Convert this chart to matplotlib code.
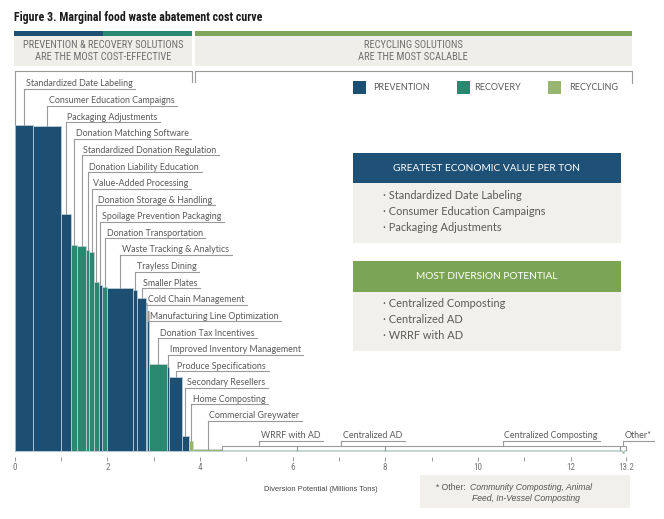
import matplotlib
matplotlib.use('Agg')
import matplotlib.pyplot as plt
from matplotlib import font_manager as fm
from matplotlib.patches import Rectangle
import numpy as np

# ---------------- data ----------------
solutions = [
    "Standardized Date Labeling", "Consumer Education Campaigns", "Packaging Adjustments",
    "Donation Matching Software", "Standardized Donation Regulation", "Donation Liability Education",
    "Value-Added Processing", "Donation Storage & Handling", "Spoilage Prevention Packaging",
    "Donation Transportation", "Waste Tracking & Analytics", "Trayless Dining", "Smaller Plates",
    "Cold Chain Management", "Manufacturing Line Optimization", "Donation Tax Incentives",
    "Improved Inventory Management", "Produce Specifications", "Secondary Resellers",
    "Home Composting", "Commercial Greywater", "WRRF with AD", "Centralized AD",
    "Centralized Composting", "Community Composting", "Animal Feed", "In-Vessel Composting",
]
categories = [
    "prevention", "prevention", "prevention",
    "recovery", "recovery", "recovery", "recovery", "recovery", "prevention",
    "recovery", "prevention", "prevention", "prevention",
    "prevention", "prevention", "recovery",
    "prevention", "prevention", "prevention",
    "recycling", "recycling", "recycling", "recycling",
    "recycling", "recycling", "recycling", "recycling",
]
# diversion potential (million tons)
diversion = [0.40, 0.59, 0.22, 0.14, 0.19, 0.07, 0.10, 0.10, 0.08, 0.11, 0.56, 0.09, 0.18,
             0.03, 0.04, 0.38, 0.06, 0.27, 0.15, 0.10, 0.61, 1.62, 1.91, 5.07, 0.04, 0.05, 0.04]
# relative economic value per ton (arbitrary index)
value = [326, 325, 237, 206, 205, 201, 199, 169, 166, 164, 163, 161, 153,
         148, 140, 87, 84, 74, 15, 10, 2.0, 1.5, 1.2, 1.0, 1.0, -2.0, 1.0]
xticks = [0, 2, 4, 6, 8, 10, 12, 13.2]
xtick_labels = ["0", "2", "4", "6", "8", "10", "12", "13.2"]
minor_ticks = [1, 3, 5, 7, 9, 11]
box1_items = ["Standardized Date Labeling", "Consumer Education Campaigns", "Packaging Adjustments"]
box2_items = ["Centralized Composting", "Centralized AD", "WRRF with AD"]

# ---------------- style ----------------
C = {"prevention": "#1d4f72", "recovery": "#2a8770", "recycling": "#9bb56d"}
LEG = {"prevention": "#1d4f72", "recovery": "#2a8770", "recycling": "#98b572"}
GRAY_TXT = "#5a5a5a"
LINE = "#9a9a9a"
BOXBG = "#efeee9"


def pick(names):
    for n in names:
        try:
            fm.findfont(fm.FontProperties(family=n), fallback_to_default=False)
            return n
        except Exception:
            pass
    return "DejaVu Sans"


NARROW = pick(["Liberation Sans Narrow", "Roboto Condensed", "DejaVu Sans Condensed", "Liberation Sans"])
SANS = pick(["Lato", "Open Sans", "DejaVu Sans"])
ARIAL = pick(["Liberation Sans", "DejaVu Sans"])

W, H = 664, 519
fig = plt.figure(figsize=(W / 100, H / 100), dpi=100)

X0, X1 = 14.7, 626.1   # pixel positions of 0 and 13.2
YB, YT = 451, 71       # baseline and top pixel rows
ax = fig.add_axes([X0 / W, 1 - YB / H, (X1 - X0) / W, (YB - YT) / H])
ax.set_xlim(0, 13.2)
ax.set_ylim(0, YB - YT)
ax.patch.set_alpha(0)
ppx = 13.2 / (X1 - X0)  # data units per pixel

widths = np.array(diversion)
lefts = np.concatenate([[0], np.cumsum(widths)[:-1]])
centers = lefts + widths / 2
cols = [C[c] for c in categories]
ax.bar(lefts, value, width=widths, align="edge", color=cols,
       edgecolor="#c4d5e0", linewidth=0.5, clip_on=False, zorder=3)

for s in ["top", "right", "bottom"]:
    ax.spines[s].set_visible(False)
ax.spines["left"].set_color(LINE)
ax.spines["left"].set_linewidth(0.8)
ax.spines["bottom"].set_position(("outward", 4))
ax.set_yticks([])
ax.tick_params(axis="x", which="both", length=3, width=0.6, color="#888888", pad=2,
               labelsize=6.6, labelcolor="#777777")
ax.set_xticks(minor_ticks, minor=True)
ax.set_xticks(xticks)
ax.set_xticklabels(xtick_labels)
for t in ax.get_xticklabels():
    t.set_family(NARROW)
    t.set_fontsize(6.6)

fig.canvas.draw()
renderer = fig.canvas.get_renderer()
inv = ax.transData.inverted()


def text_right(t):
    bb = t.get_window_extent(renderer)
    return inv.transform((bb.x1, bb.y0))[0]


# labels for narrow bars
lab_kw = dict(family=SANS, size=6.4, color=GRAY_TXT, va="center", ha="left", zorder=5)
for i in range(21):
    ly = (YB - 84) - 16.6 * i
    cx = centers[i]
    t = ax.text(cx + 1.8 * ppx, ly, solutions[i], **lab_kw)
    xr = text_right(t) + 2.5 * ppx
    uy = ly - 5
    ax.plot([cx, xr], [uy, uy], color=LINE, lw=0.8, clip_on=False, zorder=4)
    ax.plot([cx, cx], [uy, max(value[i], 0)], color=LINE, lw=0.8, clip_on=False, zorder=4)

# bracketed labels for the wide recycling bars
groups = [("WRRF with AD", [21]), ("Centralized AD", [22]), ("Centralized Composting", [23]),
          ("Other*", [24, 25, 26])]
for name, idx in groups:
    l = lefts[idx[0]]
    r = lefts[idx[-1]] + widths[idx[-1]]
    cx = (l + r) / 2
    top = 5.5
    ly = YB - 436
    t = ax.text(cx + 1.8 * ppx, ly, name, **lab_kw)
    xr = text_right(t) + 2.5 * ppx
    uy = ly - 5
    ax.plot([cx, xr], [uy, uy], color=LINE, lw=0.8, clip_on=False, zorder=4)
    ax.plot([cx, cx], [uy, top], color=LINE, lw=0.8, clip_on=False, zorder=4)
    ax.plot([l, l, r, r], [max(value[idx[0]], 0), top, top, max(value[idx[-1]], 0)],
            color=LINE, lw=0.8, clip_on=False, zorder=4)

ax.set_xlabel("Diversion Potential (Millions Tons)", family=ARIAL, size=5.4, color="#444444",
              labelpad=10)

# ---------------- overlay (pixel coordinates) ----------------
ov = fig.add_axes([0, 0, 1, 1], zorder=-1)
ov.set_xlim(0, W)
ov.set_ylim(H, 0)
ov.axis("off")


def rect(x0, y0, x1, y1, color, **kw):
    ov.add_patch(Rectangle((x0, y0), x1 - x0, y1 - y0, facecolor=color, edgecolor="none", **kw))


ov.text(14, 18, "Figure 3. Marginal food waste abatement cost curve", family=NARROW,
        weight="bold", size=8.6, color="#1a1a1a", va="center", ha="left")

# header strips and boxes
rect(14, 30.5, 103, 36, "#1f4f73")
rect(103, 30.5, 191.5, 36, "#2a8770")
rect(194.5, 30.5, 632, 36, "#7fa65a")
rect(14, 36, 191.5, 66, BOXBG)
rect(194.5, 36, 632, 66, BOXBG)
hdr_kw = dict(family=NARROW, size=7.6, color="#707070", ha="center", va="center", linespacing=1.25)
ov.text(103, 51, "PREVENTION & RECOVERY SOLUTIONS\nARE THE MOST COST-EFFECTIVE", **hdr_kw)
ov.text(413, 51, "RECYCLING SOLUTIONS\nARE THE MOST SCALABLE", **hdr_kw)

# header brackets
ov.plot([191.5, 191.5, 14.7], [82, 71, 71], color=LINE, lw=0.8)
ov.plot([194.5, 194.5, 632, 632], [82, 71, 71, 83], color=LINE, lw=0.8)

# legend
leg = [("prevention", "PREVENTION", 352.5, 373.5),
       ("recovery", "RECOVERY", 457, 474.5),
       ("recycling", "RECYCLING", 547.5, 569)]
for key, txt, sx, tx in leg:
    rect(sx, 81, sx + 13, 93.5, LEG[key])
    ov.text(tx, 87.5, txt, family=SANS, size=6.5, color=GRAY_TXT, va="center", ha="left")

# info boxes
def info_box(y0, y1, y2, hdr, items, hdrcol):
    rect(352.5, y0, 620.5, y1, hdrcol)
    rect(352.5, y1, 620.5, y2, "#f1f0ec")
    ov.text(486.5, (y0 + y1) / 2 + 0.5, hdr, family=SANS, size=7.3, color="white",
            ha="center", va="center")
    for k, it in enumerate(items):
        ov.text(383, y1 + 12 + 16 * k, "· " + it, family=SANS, size=7.9, color=GRAY_TXT,
                ha="left", va="center")


info_box(152.7, 183.3, 242.7, "GREATEST ECONOMIC VALUE PER TON", box1_items, "#1f5177")
info_box(261, 291.7, 351, "MOST DIVERSION POTENTIAL", box2_items, "#7ba454")

# footnote
rect(420, 475, 630, 507.5, "#f1f0ec")
fn_kw = dict(family=ARIAL, size=6.2, color="#555555", va="center", ha="left")
ov.text(436.5, 487, "* Other:", **fn_kw)
ov.text(470, 487, "Community Composting, Animal", style="italic", **fn_kw)
ov.text(471.5, 498.5, "Feed, In-Vessel Composting", style="italic", **fn_kw)

fig.savefig("out.png", dpi=100)
